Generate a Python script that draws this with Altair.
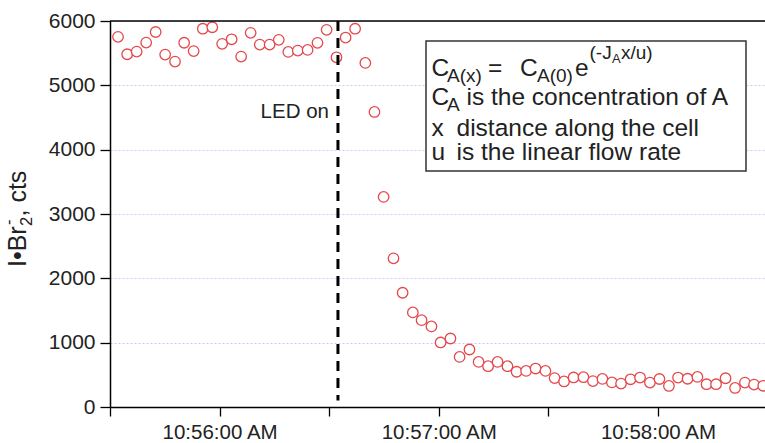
import altair as alt
import pandas as pd

# seconds after 10:55:30 AM
t_s = [2.2, 4.7, 7.3, 9.9, 12.5, 15.1, 17.8, 20.3, 22.9, 25.4, 28.0, 30.7, 33.3, 35.9,
       38.5, 41.0, 43.7, 46.2, 48.8, 51.4, 54.1, 56.8, 59.3, 62.0, 64.5, 67.1, 69.9,
       72.4, 74.9, 77.6, 80.1, 82.9, 85.3, 88.0, 90.5, 93.2, 95.7, 98.4, 100.9, 103.5,
       106.1, 108.8, 111.3, 113.9, 116.5, 119.2, 121.7, 124.3, 126.9, 129.6, 132.2,
       134.8, 137.4, 139.9, 142.5, 145.1, 147.8, 150.4, 153.0, 155.5, 158.1, 160.8,
       163.3, 165.9, 168.5, 171.1, 173.8, 176.3, 178.8]
counts = [5754, 5483, 5525, 5665, 5829, 5478, 5369, 5662, 5533, 5880, 5903, 5645, 5716,
          5447, 5816, 5634, 5634, 5707, 5520, 5540, 5551, 5660, 5863, 5436, 5743, 5880,
          5349, 4586, 3266, 2311, 1776, 1470, 1350, 1252, 1003, 1065, 779, 894, 701, 634,
          701, 634, 548, 561, 598, 561, 450, 397, 459, 463, 403, 436, 382, 364, 431, 458,
          380, 435, 327, 458, 439, 467, 354, 354, 447, 296, 380, 349, 330]
tick_secs = [0, 30, 60, 90, 120, 150]
tick_labels = ["", "10:56:00 AM", "", "10:57:00 AM", "", "10:58:00 AM"]
y_ticks = [0, 1000, 2000, 3000, 4000, 5000, 6000]
led_on_s = 62.4

df = pd.DataFrame({"t": t_s, "cts": counts})

FONT = "Liberation Sans"
TXT = "#222222"
W, H = 655, 386

label_expr = " : ".join(
    f"datum.value == {s} ? '{l}'" for s, l in zip(tick_secs, tick_labels)
) + " : ''"

xscale = alt.Scale(domain=[0, 179.3], nice=False, zero=False)
yscale = alt.Scale(domain=[0, 6000], nice=False)

points = alt.Chart(df).mark_point(
    shape="circle", filled=False, fill="white", fillOpacity=1,
    stroke="#e5484c", strokeWidth=1.3, size=110, opacity=1
).encode(
    x=alt.X("t:Q", scale=xscale, axis=alt.Axis(
        values=tick_secs, labelExpr=label_expr, title=None, grid=False,
        labelFontSize=20.5, labelFont=FONT, labelColor=TXT, labelOverlap=False,
        labelFlush=False, tickSize=9, tickColor="black", tickWidth=1.3,
        domainColor="black", domainWidth=1.5, labelPadding=6)),
    y=alt.Y("cts:Q", scale=yscale, axis=alt.Axis(
        values=y_ticks, format="d", title=None, grid=True, gridColor="#c9c9f2",
        gridDash=[2, 2], gridWidth=1, labelFontSize=21, labelFont=FONT,
        labelColor=TXT, tickSize=10, tickColor="black", tickWidth=1.3,
        domainColor="black", domainWidth=1.5, labelPadding=5)),
)

one = alt.Data(values=[{"k": 1}])

led_rule = alt.Chart(one).mark_rule(
    color="black", strokeWidth=3, strokeDash=[10, 7]
).encode(x=alt.datum(led_on_s), y=alt.datum(6000), y2=alt.datum(100))

top_border = alt.Chart(one).mark_rule(color="black", strokeWidth=1.5).encode(
    x=alt.value(0), x2=alt.value(W), y=alt.value(0))

box = alt.Chart(one).mark_rect(
    fill="white", stroke="#333333", strokeWidth=1.5
).encode(x=alt.value(316), x2=alt.value(636), y=alt.value(20), y2=alt.value(150))


def label(txt, x, y, size, align="left", angle=0):
    kw = dict(align=align, baseline="alphabetic", fontSize=size, font=FONT,
              color=TXT, text=txt)
    if angle:
        kw["angle"] = angle
    return alt.Chart(one).mark_text(**kw).encode(x=alt.value(x), y=alt.value(y))


texts = [
    label("LED on", 219, 97, 20.5, align="right"),
    # line 1: C_A(x) = C_A(0) e^(-J_A x/u)
    label("C", 321.5, 55, 24.5),
    label("A(x)", 337, 61, 19),
    label("=", 378, 55, 24.5),
    label("C", 410, 55, 24.5),
    label("A(0)", 427, 61, 19),
    label("e", 465, 55, 24.5),
    label("(-J", 479.5, 38, 19),
    label("A", 502, 42, 13),
    label("x/u)", 511, 38, 19),
    # line 2
    label("C", 321.5, 84, 24.5),
    label("A", 337, 90, 19),
    label("is the concentration of A", 356.5, 84, 24.5),
    # line 3
    label("x", 321.5, 115, 24.5),
    label("distance along the cell", 346.5, 115, 24.5),
    # line 4
    label("u", 321.5, 139, 24.5),
    label("is the linear flow rate", 346.5, 139, 24.5),
    # y title: I•Br2-, cts
    label("I•Br", -84, 246, 25, angle=270),
    label("2", -78.5, 205, 16.5, angle=270),
    label("-", -96, 204, 16.5, angle=270),
    label(", cts", -84, 195.5, 25, angle=270),
]

chart = alt.layer(points, led_rule, top_border, box, *texts).properties(
    width=W, height=H,
    padding={"left": 110, "top": 21, "right": 0, "bottom": 36},
    autosize=alt.AutoSizeParams(type="none"),
).configure_view(stroke=None)

chart.save("out.html", embed_options={"renderer": "svg", "actions": False})
